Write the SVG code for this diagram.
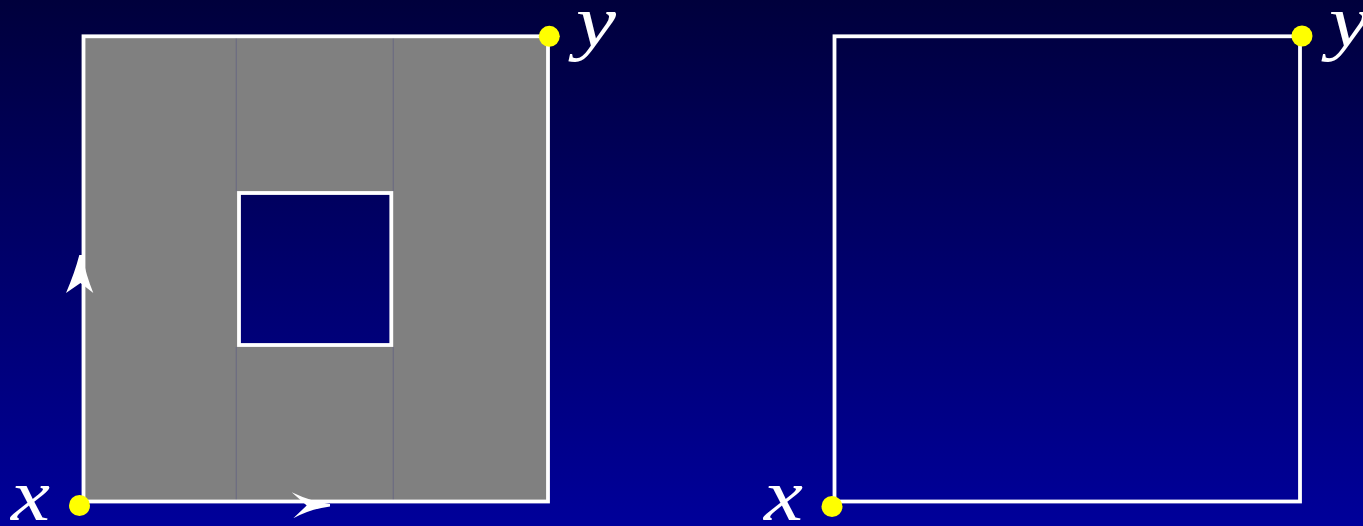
<svg xmlns="http://www.w3.org/2000/svg" width="1363" height="526" viewBox="0 0 1363 526">
<style>
.edge{fill:none;stroke:#ffffff;stroke-width:3.8}
.dot{fill:#ffff00}
.lbl{font-family:"Liberation Serif","DejaVu Serif",serif;font-style:italic;font-size:74px;fill:#ffffff}
.seam{stroke:#6c6c82;stroke-width:1.2}
.arr{fill:#ffffff}
</style>
<defs>
<linearGradient id="bg" x1="0" y1="0" x2="0" y2="1">
<stop offset="0" stop-color="#00003c"/>
<stop offset="1" stop-color="#00009a"/>
</linearGradient>
</defs>
<rect x="0" y="0" width="1363" height="526" fill="url(#bg)"/>
<g id="left-square">
<path d="M83.5,36.3 H548 V501.5 H83.5 Z M239,193 V345 H391.3 V193 Z" fill="#808080" fill-rule="evenodd"/>
<line class="seam" x1="236.3" y1="38" x2="236.3" y2="191"/>
<line class="seam" x1="236.3" y1="347" x2="236.3" y2="500"/>
<line class="seam" x1="393.3" y1="38" x2="393.3" y2="191"/>
<line class="seam" x1="393.3" y1="347" x2="393.3" y2="500"/>
<rect class="edge" x="83.5" y="36.3" width="464.5" height="465.2"/>
<rect class="edge" x="239" y="193" width="152.3" height="152"/>
</g>
<g id="right-square">
<rect class="edge" x="834.5" y="36.3" width="465.5" height="465.2"/>
</g>
<g id="connectors">
<path class="arr" d="M79.3,255 L82,255 Q86,275 93.3,293 L80.5,283 L66,293 Q75,272 79.3,255 Z"/>
<path class="arr" d="M291.7,492.3 Q312,502 330,504 L330,506.5 Q310,509 293.3,518.3 L306.7,505.5 Z"/>
</g>
<g id="left-x">
<circle class="dot" cx="79.5" cy="505.5" r="10.5"/>
<text class="lbl" x="11" y="520" textLength="39" lengthAdjust="spacingAndGlyphs">x</text>
</g>
<g id="left-y">
<circle class="dot" cx="549.3" cy="36.3" r="10.5"/>
<text class="lbl" x="576" y="46" textLength="40" lengthAdjust="spacingAndGlyphs">y</text>
</g>
<g id="right-x">
<circle class="dot" cx="832" cy="506.5" r="10.5"/>
<text class="lbl" x="764" y="520" textLength="39" lengthAdjust="spacingAndGlyphs">x</text>
</g>
<g id="right-y">
<circle class="dot" cx="1302" cy="36" r="10.5"/>
<text class="lbl" x="1329" y="46" textLength="40" lengthAdjust="spacingAndGlyphs">y</text>
</g>
</svg>
